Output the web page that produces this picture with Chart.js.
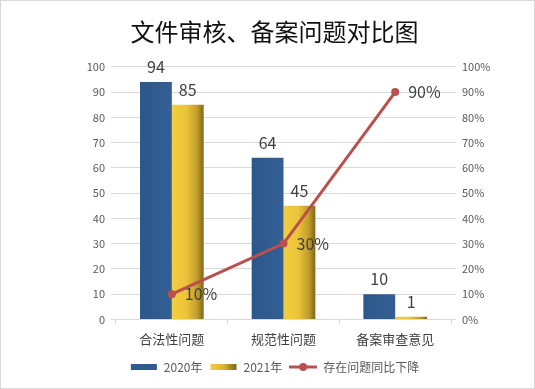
<!DOCTYPE html>
<html>
<head>
<meta charset="utf-8">
<script src="https://cdn.jsdelivr.net/npm/chart.js@4/dist/chart.umd.min.js"></script>
<style>
    html, body { margin: 0; padding: 0; background: #fff; }
    #wrap { width: 535px; height: 389px; box-sizing: border-box; border: 1px solid #d9d9d9; }
</style>
</head>
<body>
<div id="wrap"><canvas id="chart" width="533" height="387"></canvas></div>
<script>
// data
const categories = ['合法性问题', '规范性问题', '备案审查意见'];
const values2020 = [94, 64, 10];
const values2021 = [85, 45, 1];
const declinePct = [10, 30, 90];
const seriesNames = ['2020年', '2021年', '存在问题同比下降'];

const FONT = '"Noto Sans CJK SC", "Noto Sans", sans-serif';
const CAT_PCT = 0.57;

function barGradient(ctx, which) {
    const chart = ctx.chart;
    const x = chart.scales.x;
    if (!chart.chartArea || !x || ctx.type !== 'data') return which === 0 ? '#2f5b8f' : '#e4bd36';
    const center = x.getPixelForValue(ctx.dataIndex);
    const catW = x.width / categories.length;
    const half = catW * CAT_PCT / 2;
    const x0 = which === 0 ? center - half : center;
    const x1 = which === 0 ? center : center + half;
    const g = chart.ctx.createLinearGradient(x0, 0, x1, 0);
    if (which === 0) {
        g.addColorStop(0, '#2c578b');
        g.addColorStop(1, '#345f93');
    } else {
        g.addColorStop(0, '#f3cd42');
        g.addColorStop(0.45, '#ecc43a');
        g.addColorStop(0.8, '#c09c2c');
        g.addColorStop(1, '#7e6519');
    }
    return g;
}

// legend icons
function makeIcon(kind) {
    const c = document.createElement('canvas');
    c.width = 28; c.height = 10;
    const g = c.getContext('2d');
    if (kind === 'line') {
        g.strokeStyle = '#b9504e';
        g.lineWidth = 3;
        g.beginPath(); g.moveTo(0, 5); g.lineTo(28, 5); g.stroke();
        g.fillStyle = '#b9504e';
        g.beginPath(); g.arc(14, 5, 4, 0, Math.PI * 2); g.fill();
    } else {
        let fill;
        if (kind === 'blue') {
            fill = '#2f5b8f';
        } else {
            fill = g.createLinearGradient(1, 0, 27, 0);
            fill.addColorStop(0, '#f3cd42');
            fill.addColorStop(0.5, '#ddb734');
            fill.addColorStop(1, '#7e6519');
        }
        g.fillStyle = fill;
        g.fillRect(1, 2, 26, 6);
    }
    return c;
}
const icons = [makeIcon('blue'), makeIcon('gold'), makeIcon('line')];

// value labels
const labelPlugin = {
    id: 'valueLabels',
    afterDatasetsDraw(chart) {
        const ctx = chart.ctx;
        ctx.save();
        ctx.fillStyle = '#404040';
        ctx.font = '16px ' + FONT;
        chart.data.datasets.forEach((ds, i) => {
            const meta = chart.getDatasetMeta(i);
            meta.data.forEach((el, j) => {
                if (ds.type === 'line') {
                    ctx.textAlign = 'left';
                    ctx.textBaseline = 'middle';
                    ctx.fillText(ds.data[j] + '%', el.x + 13, el.y);
                } else {
                    ctx.textAlign = 'center';
                    ctx.textBaseline = 'bottom';
                    ctx.fillText(ds.data[j], el.x, el.y - 7);
                }
            });
        });
        ctx.restore();
    }
};

new Chart(document.getElementById('chart').getContext('2d'), {
    type: 'bar',
    data: {
        labels: categories,
        datasets: [
            {
                label: seriesNames[0],
                data: values2020,
                backgroundColor: ctx => barGradient(ctx, 0),
                categoryPercentage: CAT_PCT,
                barPercentage: 1,
                yAxisID: 'y',
                order: 2
            },
            {
                label: seriesNames[1],
                data: values2021,
                backgroundColor: ctx => barGradient(ctx, 1),
                categoryPercentage: CAT_PCT,
                barPercentage: 1,
                yAxisID: 'y',
                order: 2
            },
            {
                type: 'line',
                label: seriesNames[2],
                data: declinePct,
                borderColor: '#b9504e',
                backgroundColor: '#b9504e',
                borderWidth: 3,
                pointRadius: 4,
                pointBackgroundColor: '#b9504e',
                pointBorderWidth: 0,
                tension: 0,
                yAxisID: 'y1',
                order: 1
            }
        ]
    },
    options: {
        responsive: false,
        animation: false,
        layout: { padding: { top: 16, left: 47, right: 33, bottom: 5 } },
        plugins: {
            title: {
                display: true,
                text: '文件审核、备案问题对比图',
                color: '#111',
                font: { family: FONT, size: 24, weight: 'normal' },
                padding: { top: 0, bottom: 21 }
            },
            legend: {
                position: 'bottom',
                labels: {
                    usePointStyle: true,
                    pointStyleWidth: 28,
                    color: '#595959',
                    font: { family: FONT, size: 12 },
                    padding: 7,
                    generateLabels: chart => chart.data.datasets.map((ds, i) => ({
                        text: ds.label,
                        pointStyle: icons[i],
                        fontColor: '#595959',
                        datasetIndex: i,
                        hidden: false,
                        lineWidth: 0
                    }))
                }
            },
            tooltip: { enabled: false }
        },
        scales: {
            x: {
                grid: { drawOnChartArea: false, drawTicks: true, tickLength: 5, color: '#d9d9d9', offset: true },
                border: { color: '#d9d9d9' },
                ticks: { color: '#404040', font: { family: FONT, size: 13 }, padding: 7 }
            },
            y: {
                position: 'left',
                min: 0, max: 100,
                ticks: { stepSize: 10, color: '#595959', font: { family: FONT, size: 11 }, padding: 6 },
                grid: { color: '#d9d9d9', tickLength: 5 },
                border: { display: false },
                afterFit: s => { s.width = 68; }
            },
            y1: {
                position: 'right',
                min: 0, max: 100,
                ticks: { stepSize: 10, color: '#595959', font: { family: FONT, size: 11 }, padding: 6,
                    callback: v => v + '%' },
                grid: { drawOnChartArea: false, tickLength: 5, color: '#d9d9d9' },
                border: { display: false },
                afterFit: s => { s.width = 50; }
            }
        }
    },
    plugins: [labelPlugin]
});
</script>
</body>
</html>
